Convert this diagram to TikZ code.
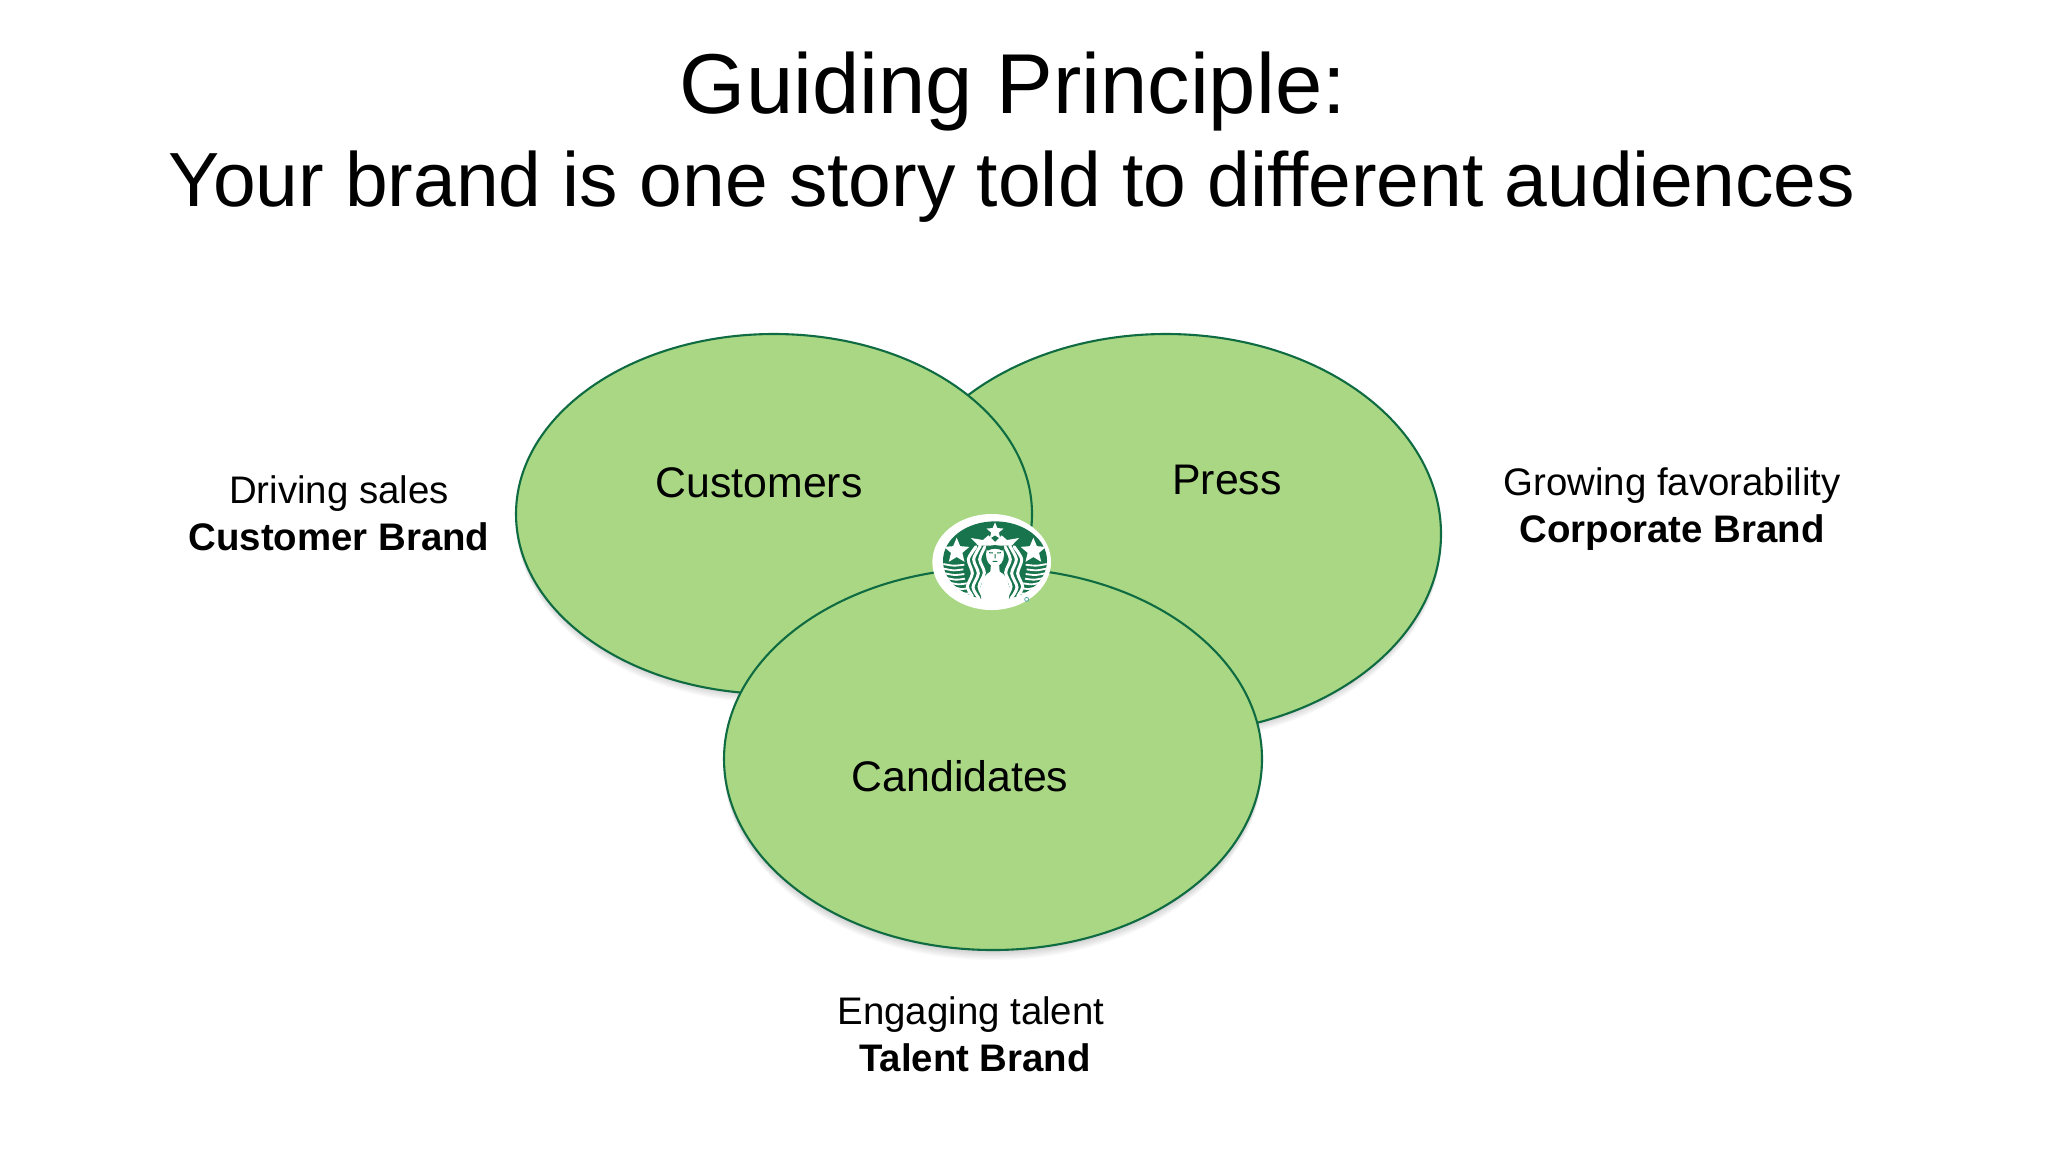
\documentclass[tikz,border=0pt]{standalone}
\usepackage{fontspec}
\setmainfont[Ligatures=NoCommon]{Liberation Sans}
\usetikzlibrary{shapes.geometric}
\definecolor{vennfill}{HTML}{A9D784}
\definecolor{vennline}{HTML}{0F6B42}
\definecolor{sbgreen}{HTML}{17744C}
\newcommand{\softshadow}[4]{%
  \foreach \d in {1,2,...,7}{
    \fill[black,opacity=.025] (#1,#2+\d*1.5) ellipse [x radius=#3+1-\d*.2, y radius=#4+1-\d*.2];
  }}
\newcommand{\logostar}[3]{%
  \fill[white,shift={(#1,#2)}] (270:#3)--(306:#3*.45)--(342:#3)--(18:#3*.45)--(54:#3)--(90:#3*.45)--(126:#3)--(162:#3*.45)--(198:#3)--(234:#3*.45)--cycle;}
\newcommand{\logohalf}{%
  % side star
  \logostar{-115}{183}{40}
  % crown
  \fill[white] (-72,144)--(-36,150)--(-20,136)--(0,156)--(0,167)--(-50,167)--cycle;
  % fish tails
  \foreach \yy/\xa/\xb in {222/-155/-92,236/-153/-95,250/-150/-92,264/-145/-90,278/-135/-85,292/-122/-78,306/-105/-70}{
    \draw[white,line width=5.5*.1667pt] plot[smooth] coordinates {(\xa,\yy) ({(\xa+\xb)/2},\yy+5) (\xb,\yy+2)};
  }
  % hair
  \draw[white,line width=9*.1667pt,line cap=round] plot[smooth] coordinates {(-30,170) (-46,208) (-32,248) (-48,290) (-30,328)};
  \draw[white,line width=9*.1667pt,line cap=round] plot[smooth] coordinates {(-44,168) (-64,208) (-50,250) (-66,292) (-48,325)};
  \draw[white,line width=9*.1667pt,line cap=round] plot[smooth] coordinates {(-57,170) (-80,208) (-68,250) (-83,290) (-68,318)};
}
\begin{document}
\begin{tikzpicture}[x=.5pt,y=-.5pt,
  vennshape/.style={ellipse,draw=vennline,fill=vennfill,line width=1.05pt,inner sep=0pt},
  titletext/.style={anchor=base,font=\fontsize{42.5}{50}\selectfont,text=black,inner sep=0pt},
  subtitletext/.style={titletext,font=\fontsize{38.4}{46}\selectfont},
  circletext/.style={anchor=base,font=\fontsize{21.4}{26}\selectfont,text=black,inner sep=0pt},
  sidetext/.style={anchor=base,font=\fontsize{19.2}{23}\selectfont,text=black,inner sep=0pt},
  sidebold/.style={sidetext,font=\fontsize{19.2}{23}\selectfont\bfseries}]
\useasboundingbox (0,0) rectangle (2048,1152);
\fill[white] (0,0) rectangle (2048,1152);

\node[titletext] (title1) at (1013,113) {Guiding Principle:};
\node[subtitletext] (title2) at (1012,206) {Your brand is one story told to different audiences};

\softshadow{1166}{533}{275}{200}
\node[vennshape,minimum width=275pt,minimum height=200pt] (press) at (1166,534) {};
\softshadow{774}{513}{258}{180}
\node[vennshape,minimum width=258pt,minimum height=180pt] (customers) at (774,514) {};
\softshadow{993}{759}{269}{191}
\node[vennshape,minimum width=269pt,minimum height=191pt] (candidates) at (993,759) {};

\node[circletext] (lcust) at (759,497) {Customers};
\node[circletext] (lpress) at (1227,494) {Press};
\node[circletext] (lcand) at (960,791) {Candidates};

\node[sidetext] (s1a) at (339,503) {Driving sales};
\node[sidebold] (s1b) at (339,550) {Customer Brand};
\node[sidetext] (s2a) at (1672,495) {Growing favorability};
\node[sidebold] (s2b) at (1672,542) {Corporate Brand};
\node[sidetext] (s3a) at (971,1024) {Engaging talent};
\node[sidebold] (s3b) at (975,1071) {Talent Brand};

% logo, drawn in 3x crop coordinates around its axis
\begin{scope}[shift={(995,490)},x=.16667pt,y=-.16667pt]
  \fill[white] (-10,216) ellipse [x radius=178, y radius=144];
  \fill[sbgreen] (0,212) ellipse [x radius=156, y radius=118];
  \logostar{0}{124}{27}
  \logohalf
  \begin{scope}[xscale=-1]\logohalf\end{scope}
  % torso, neck and face
  \fill[white] (-12,222)--(12,222)--(14,245) .. controls (40,258) and (48,290) .. (40,334) -- (-40,334) .. controls (-48,290) and (-40,258) .. (-14,245) -- cycle;
  \fill[white] (0,194) ellipse [x radius=27, y radius=36];
  \fill[sbgreen] (-28,172) .. controls (-15,163) and (15,163) .. (28,172) -- (22,182) .. controls (8,174) and (-8,174) .. (-22,182) -- cycle;
  \draw[sbgreen,line width=.5pt] (-18,188)--(-6,189) (18,188)--(6,189) (0,192)--(0,205) (-7,214)--(7,214);
  \draw[teal!70!white,line width=.4pt] (95,328) circle [radius=6];
\end{scope}
\end{tikzpicture}
\end{document}
